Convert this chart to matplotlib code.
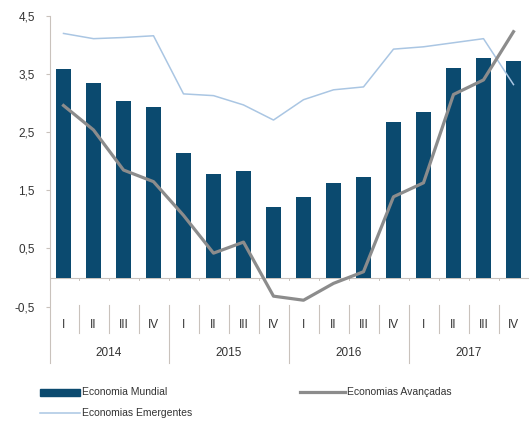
import matplotlib
matplotlib.use("Agg")
import matplotlib.pyplot as plt
from matplotlib.lines import Line2D
from matplotlib.patches import Patch

years = ["2014", "2015", "2016", "2017"]
quarters = ["I", "II", "III", "IV"]
mundial = [3.58, 3.34, 3.03, 2.94, 2.15, 1.78, 1.84, 1.22,
           1.38, 1.63, 1.73, 2.68, 2.84, 3.61, 3.77, 3.73]
avancadas = [2.96, 2.54, 1.85, 1.65, 1.07, 0.42, 0.61, -0.32,
             -0.39, -0.10, 0.10, 1.39, 1.63, 3.15, 3.40, 4.23]
emergentes = [4.20, 4.11, 4.13, 4.16, 3.16, 3.13, 2.97, 2.71,
              3.06, 3.23, 3.28, 3.93, 3.97, 4.04, 4.11, 3.32]
yticks = [4.5, 3.5, 2.5, 1.5, 0.5, -0.5]
ytick_labels = ["4,5", "3,5", "2,5", "1,5", "0,5", "-0,5"]

plt.rcParams['font.family'] = ['Liberation Sans', 'DejaVu Sans']

c_bar = "#0b4a6f"
c_adv = "#8c8c8c"
c_emg = "#aac6e3"
c_axis = "#c9c2bc"

fig = plt.figure(figsize=(5.29, 4.21), dpi=100)
ax = fig.add_axes([50/529, 1-363/421, 478.5/529, (363-16)/421])

n = len(mundial)
x = list(range(n))
ax.bar(x, mundial, width=0.47, color=c_bar, zorder=2)
ax.plot(x, emergentes, color=c_emg, lw=1.1, zorder=3)
ax.plot(x, avancadas, color=c_adv, lw=2.3, zorder=4)

ax.set_xlim(-0.45, n - 0.5)
ax.set_ylim(-1.47, 4.5)
ax.axhline(0, color=c_axis, lw=0.8, zorder=1)
for s in ["top", "right", "bottom"]:
    ax.spines[s].set_visible(False)
ax.spines["left"].set_color(c_axis)
ax.spines["left"].set_linewidth(0.8)
ax.set_xticks([])
ax.set_yticks(yticks)
ax.set_yticklabels(ytick_labels, fontsize=8.5, color="#333333")
ax.tick_params(axis="y", length=3, color=c_axis, pad=8)

# small ticks on zero line at slot boundaries
for i in range(n - 1):
    ax.plot([i + 0.5, i + 0.5], [0, -0.04], color=c_axis, lw=0.7, clip_on=False)

# category labels
for i in range(n):
    ax.text(i, -0.81, quarters[i % 4], ha="center", va="center",
            fontsize=8.5, color="#333333")
for i in range(n - 1):
    b = i + 0.5
    if (i + 1) % 4 == 0:
        ax.plot([b, b], [-0.47, -1.47], color=c_axis, lw=0.8, clip_on=False)
    else:
        ax.plot([b, b], [-0.47, -0.96], color=c_axis, lw=0.8, clip_on=False)
for j, yr in enumerate(years):
    ax.text(j * 4 + 1.5, -1.29, yr, ha="center", va="center",
            fontsize=8.5, color="#333333")

# legend
fig.patches.append(matplotlib.patches.Rectangle((40/529, 1-396/421), 40/529, 7/421,
                   transform=fig.transFigure, color=c_bar))
fig.text(82/529, 1-392/421, "Economia Mundial", fontsize=7.5, va="center", color="#333333")
fig.add_artist(Line2D([300/529, 345/529], [1-392/421, 1-392/421], color=c_adv, lw=2.3,
                      transform=fig.transFigure))
fig.text(347/529, 1-392/421, "Economias Avançadas", fontsize=7.5, va="center", color="#333333")
fig.add_artist(Line2D([40/529, 80/529], [1-413/421, 1-413/421], color=c_emg, lw=1.1,
                      transform=fig.transFigure))
fig.text(82/529, 1-413/421, "Economias Emergentes", fontsize=7.5, va="center", color="#333333")

fig.savefig("out.png", dpi=100)
